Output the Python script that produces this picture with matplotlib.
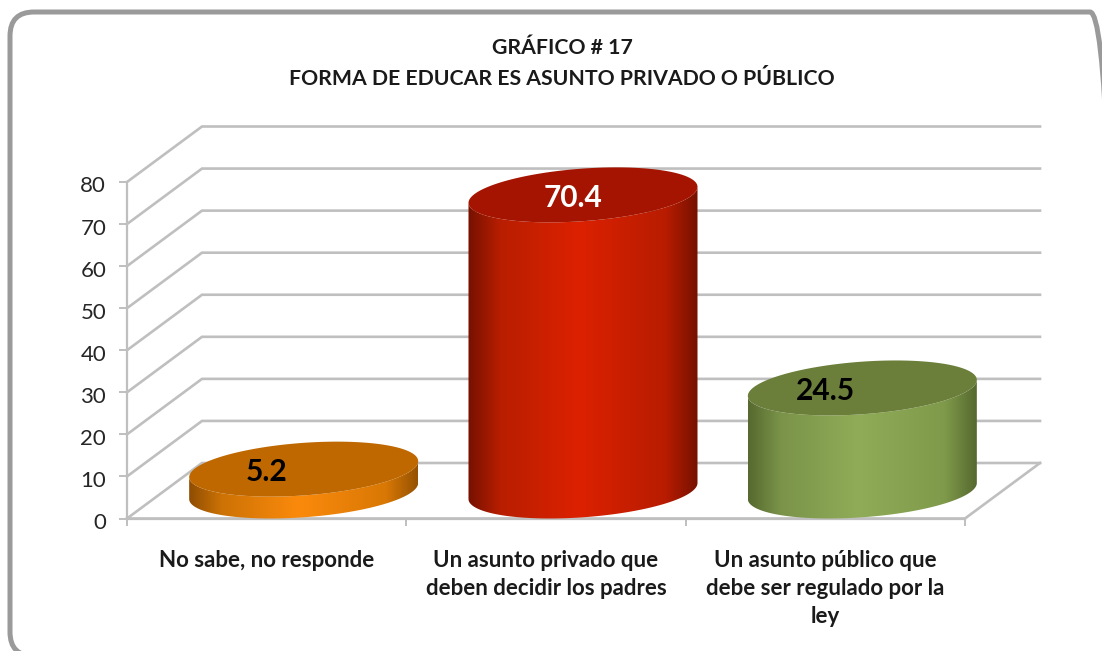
import numpy as np
import matplotlib
matplotlib.use("Agg")
import matplotlib.pyplot as plt
from matplotlib.patches import FancyBboxPatch, Polygon
from matplotlib.colors import LinearSegmentedColormap
from matplotlib.transforms import ScaledTranslation

plt.rcParams['font.family'] = ['Lato', 'DejaVu Sans']

title = "GRÁFICO # 17\nFORMA DE EDUCAR ES ASUNTO PRIVADO O PÚBLICO"
categories = ["No sabe, no responde",
              "Un asunto privado que\ndeben decidir los padres",
              "Un asunto público que\ndebe ser regulado por la\nley"]
values = [5.2, 70.4, 24.5]
value_labels = ["5.2", "70.4", "24.5"]
yticks = [0, 10, 20, 30, 40, 50, 60, 70, 80]
label_colors = ["black", "white", "black"]
label_shift_px = [-37, -10, -37]
stops = [0.0, 0.14, 0.48, 0.86, 1.0]
ramps = [["#8f4d02", "#cc7205", "#fb8a0c", "#d97805", "#955202"],
         ["#761100", "#b81e00", "#dc2100", "#b81c00", "#761100"],
         ["#56692f", "#7a9349", "#90ac58", "#7f9a4a", "#56692f"]]
tops = ["#bf6800", "#a51400", "#6b7f3a"]

W, H = 1102, 651
fig = plt.figure(figsize=(W / 100, H / 100), dpi=100, facecolor="white")

# plot geometry in pixels
L, R, Y0, Y80 = 127, 965, 518.5, 182
ax = fig.add_axes([L / W, 1 - Y0 / H, (R - L) / W, (Y0 - Y80) / H])
ax.set_xlim(0, 3)
ax.set_ylim(0, 80)
ax.patch.set_alpha(0)
px = 3 / (R - L)               # x units per pixel
py = 80 / (Y0 - Y80)           # y units per pixel
dx, dy = 75 * px, 55.5 * py    # depth of the 3D box

GRID = "#bfbfbf"
for v in yticks:
    ax.plot([0, dx, 3 + dx], [v, v + dy, v + dy], color=GRID, lw=1.9,
            clip_on=False, zorder=1, solid_joinstyle="miter")
ax.plot([0, 3, 3 + dx], [0, 0, dy], color=GRID, lw=1.9, clip_on=False, zorder=1)

for s in ["top", "right"]:
    ax.spines[s].set_visible(False)
for s in ["left", "bottom"]:
    ax.spines[s].set_color(GRID)
    ax.spines[s].set_linewidth(1.6)
ax.set_yticks(yticks)
ax.set_yticklabels([str(v) for v in yticks])
ax.tick_params(axis="y", length=6, width=1.4, color=GRID, labelsize=16,
               labelcolor="#262626", pad=9)
shift_down = ScaledTranslation(0, -2.5 / 100, fig.dpi_scale_trans)
for lab in ax.get_yticklabels():
    lab.set_transform(lab.get_transform() + shift_down)
ax.set_xticks([0, 1, 2, 3])
ax.set_xticklabels([])
ax.tick_params(axis="x", which="major", length=5, width=1.4, color=GRID)
ax.set_xticks([0.5, 1.5, 2.5], minor=True)
ax.set_xticklabels(categories, minor=True, fontsize=16, fontweight="bold",
                   color="#1a1a1a", linespacing=1.4)
ax.tick_params(axis="x", which="minor", length=0, pad=23)

# cylinders
a = 114.5 * px
b = 26.3 * py
k = 8 * py
t = np.linspace(0, 2 * np.pi, 241)


def ellipse(cx, cy, tt):
    return cx + a * np.cos(tt), cy + b * np.sin(tt) + k * np.cos(tt)


base = 27.5 * py
for i, v in enumerate(values):
    cx = i + 0.5 + 37 * px
    low = np.linspace(np.pi, 2 * np.pi, 121)
    xb, yb = ellipse(cx, base, low)
    xt, yt = ellipse(cx, base + v, low[::-1])
    poly = Polygon(np.c_[np.r_[xb, xt], np.r_[yb, yt]], closed=True,
                   transform=ax.transData, facecolor="none", edgecolor="none")
    ax.add_patch(poly)
    cmap = LinearSegmentedColormap.from_list(f"c{i}", list(zip(stops, ramps[i])))
    grad = np.linspace(0, 1, 256)[None, :]
    im = ax.imshow(grad, cmap=cmap, aspect="auto", zorder=3,
                   extent=[cx - a, cx + a, -5, base + v + 12],
                   interpolation="bilinear")
    im.set_clip_box(fig.bbox)
    im.set_clip_path(poly)
    xe, ye = ellipse(cx, base + v, t)
    ax.fill(xe, ye, color=tops[i], zorder=4, clip_on=False, lw=0)
    ax.annotate(value_labels[i], (cx, base + v), xytext=(label_shift_px[i], -3),
                textcoords="offset pixels", ha="center", va="center",
                fontsize=21.5, fontweight="bold", color=label_colors[i],
                zorder=5, annotation_clip=False)
ax.set_xlim(0, 3)
ax.set_ylim(0, 80)

fig.text(562 / W, 1 - 63.5 / H, title, ha="center", va="center", fontsize=15.3,
         fontweight="bold", color="#1a1a1a", linespacing=1.66)

# rounded frame, running slightly past the right and bottom edges
frame = FancyBboxPatch((10, -5), 1104, 644, boxstyle="round,pad=0,rounding_size=24",
                       transform=None, facecolor="none", edgecolor="#9a9a9a", lw=3.6,
                       zorder=10)
fig.add_artist(frame)

fig.savefig("out.png", dpi=100)
